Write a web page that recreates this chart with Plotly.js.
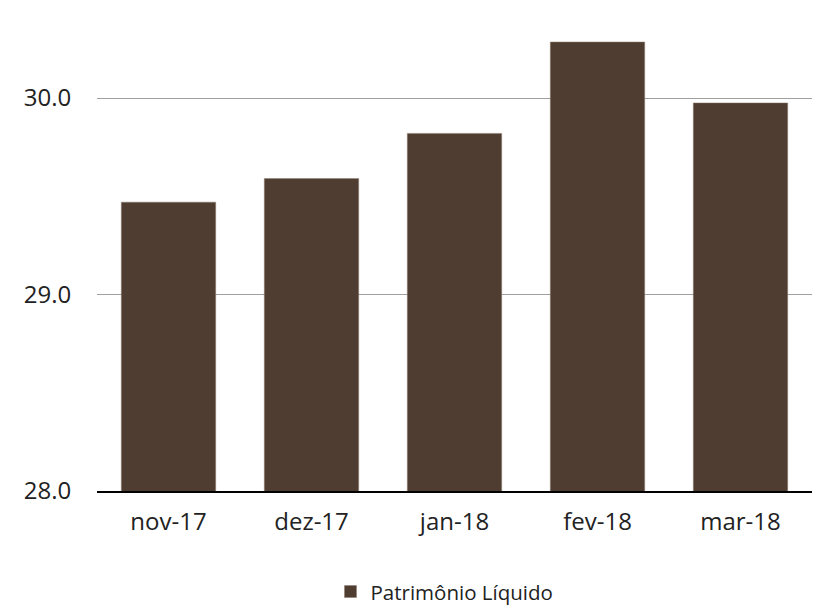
<!DOCTYPE html>
<html>
<head>
<meta charset="utf-8">
<script src="https://cdn.plot.ly/plotly-3.0.1.min.js"></script>
<style>html,body{margin:0;padding:0;background:#fff;}#chart{width:814px;height:610px;}</style>
</head>
<body>
<div id="chart"></div>
<script>
const categories = ["nov-17", "dez-17", "jan-18", "fev-18", "mar-18"];
const values = [29.47, 29.59, 29.82, 30.285, 29.975];
const seriesName = "Patrimônio Líquido";
const yTicks = [28, 29, 30];
const yTickText = ["28.0", "29.0", "30.0"];

const font = "'Open Sans', 'Noto Sans', sans-serif";
Plotly.newPlot("chart", [{
  type: "bar",
  x: categories,
  y: values,
  name: seriesName,
  marker: {color: "#503D31", line: {color: "#8a7a70", width: 0.5}},
  showlegend: true
}], {
  width: 814, height: 610,
  margin: {l: 97, r: 2, t: 10, b: 119},
  paper_bgcolor: "#fff", plot_bgcolor: "#fff",
  bargap: 0.34,
  font: {family: font, color: "#222", size: 24},
  xaxis: {
    type: "category", automargin: false,
    showline: true, linecolor: "#000", linewidth: 2,
    showgrid: false, zeroline: false,
    ticks: "", ticklabelstandoff: 8,
    tickfont: {family: font, size: 24, color: "#222"}
  },
  yaxis: {
    range: [28, 30.448], automargin: false,
    tickvals: yTicks, ticktext: yTickText,
    showgrid: true, gridcolor: "#a0a0a0", gridwidth: 1,
    zeroline: false, showline: false,
    ticks: "outside", ticklen: 20, tickcolor: "rgba(0,0,0,0)",
    tickfont: {family: font, size: 24, color: "#222"}
  },
  showlegend: true,
  legend: {
    orientation: "h", x: 0.486, xanchor: "center",
    yref: "container", y: 0.03, yanchor: "middle",
    font: {family: font, size: 20.5, color: "#222"},
    itemwidth: 30
  }
}, {displayModeBar: false, staticPlot: true});
</script>
</body>
</html>
